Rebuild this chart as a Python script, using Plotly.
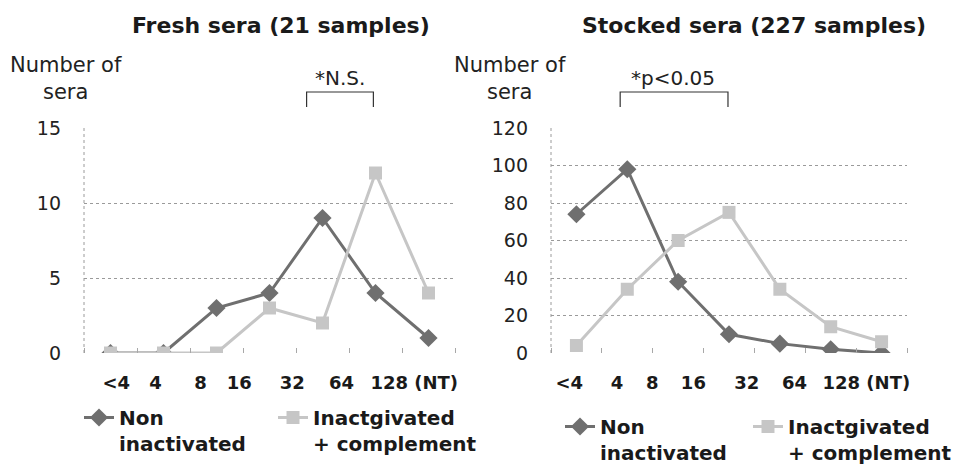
import plotly.graph_objects as go

# ---- data ----
titer_labels = ["<4", "4", "8", "16", "32", "64", "128 (NT)"]
fresh_non_inactivated = [0, 0, 3, 4, 9, 4, 1]
fresh_inactivated_complement = [0, 0, 0, 3, 2, 12, 4]
stocked_non_inactivated = [74, 98, 38, 10, 5, 2, 0]
stocked_inactivated_complement = [4, 34, 60, 75, 34, 14, 6]
series_names = ["Non<br>inactivated", "Inactgivated<br>+ complement"]
panel_titles = ["Fresh sera (21 samples)", "Stocked sera (227 samples)"]
fresh_yticks = [0, 5, 10, 15]
stocked_yticks = [0, 20, 40, 60, 80, 100, 120]
significance = ["*N.S.", "*p<0.05"]

W, H = 964, 464
def px_x(p):
    return p / W
def px_y(p):
    return 1 - p / H

DARK = "#6f6f6f"
LIGHT = "#c6c6c6"
FONT = "DejaVu Sans"

# category index of each titer class (points sit at these positions)
cat_pos = list(range(len(titer_labels)))

fig = go.Figure()

panels = [
    dict(xa="x", ya="y", non=fresh_non_inactivated, ina=fresh_inactivated_complement,
         legs=("legend", "legend2")),
    dict(xa="x2", ya="y2", non=stocked_non_inactivated, ina=stocked_inactivated_complement,
         legs=("legend3", "legend4")),
]

for p in panels:
    fig.add_trace(go.Scatter(
        x=cat_pos, y=p["non"], name=series_names[0], xaxis=p["xa"], yaxis=p["ya"],
        mode="lines+markers", line=dict(color=DARK, width=3),
        marker=dict(symbol="diamond", size=14, color=DARK), legend=p["legs"][0]))
    fig.add_trace(go.Scatter(
        x=cat_pos, y=p["ina"], name=series_names[1], xaxis=p["xa"], yaxis=p["ya"],
        mode="lines+markers", line=dict(color=LIGHT, width=3),
        marker=dict(symbol="square", size=13, color=LIGHT), legend=p["legs"][1]))

ydom = [px_y(353), px_y(128)]
dom_left = [px_x(84), px_x(455)]
dom_right = [px_x(551), px_x(907)]
xr = [-0.5, len(titer_labels) - 0.5]

tickfont_x = dict(family=FONT, size=18, color="#1a1a1a", weight="bold")
tickfont_y = dict(family=FONT, size=19, color="#222222")

# label positions (in category units) under the axis, as in the reference
left_label_pos = [0.11, 0.85, 1.70, 2.43, 3.43, 4.36, 5.73]
right_label_pos = [-0.14, 0.80, 1.49, 2.30, 3.35, 4.29, 5.70]

def xaxis_cfg(dom, anchor, pos):
    return dict(domain=dom, anchor=anchor, range=xr, tickmode="array", tickvals=pos,
                ticktext=titer_labels, ticks="", showgrid=False, showline=False,
                zeroline=False, tickfont=tickfont_x, ticklabelstandoff=17, fixedrange=True,
                minor=dict(tickmode="linear", tick0=0.5, dtick=1, ticks="inside",
                           ticklen=5, tickcolor="#a8a8a8", showgrid=False))

def yaxis_cfg(anchor, rng, ticks):
    return dict(domain=ydom, anchor=anchor, range=rng, tickvals=ticks, showgrid=True,
                gridcolor="#9a9a9a", griddash="dot", gridwidth=1, zeroline=False,
                showline=False, tickfont=tickfont_y, ticklabelstandoff=22, fixedrange=True)

fig.update_layout(
    width=W, height=H, autosize=False,
    margin=dict(l=0, r=0, t=0, b=0, autoexpand=False),
    paper_bgcolor="white", plot_bgcolor="white",
    xaxis=xaxis_cfg(dom_left, "y", left_label_pos),
    xaxis2=xaxis_cfg(dom_right, "y2", right_label_pos),
    yaxis=yaxis_cfg("x", [0, 15], fresh_yticks),
    yaxis2=yaxis_cfg("x2", [0, 120], stocked_yticks),
    showlegend=True,
)

# legends: one per entry
leg_common = dict(orientation="h", xanchor="left", yanchor="top", valign="top",
                  bgcolor="rgba(0,0,0,0)", borderwidth=0,
                  font=dict(family=FONT, size=20, color="#1a1a1a", weight="bold"), itemwidth=30)
fig.update_layout(
    legend=dict(x=px_x(79), y=px_y(398), **leg_common),
    legend2=dict(x=px_x(273), y=px_y(398), **leg_common),
    legend3=dict(x=px_x(560), y=px_y(407), **leg_common),
    legend4=dict(x=px_x(748), y=px_y(407), **leg_common),
)

# vertical dotted axis lines at the left of each plot
for xa, ya in (("x", "y"), ("x2", "y2")):
    fig.add_shape(type="line", xref=f"{xa} domain", yref=f"{ya} domain", x0=0, x1=0, y0=0, y1=1,
                  line=dict(color="#9a9a9a", width=1, dash="dot"))

# titles
for cx, t in zip((281, 754), panel_titles):
    fig.add_annotation(x=px_x(cx), y=px_y(26), xref="paper", yref="paper", text=t,
                       showarrow=False,
                       font=dict(family=FONT, size=22, color="#1a1a1a", weight="bold"),
                       xanchor="center", yanchor="middle")

# y-axis titles
for cx in (66, 510):
    fig.add_annotation(x=px_x(cx), y=px_y(78), xref="paper", yref="paper", text="Number of<br>sera",
                       showarrow=False, font=dict(family=FONT, size=21, color="#222222"),
                       xanchor="center", yanchor="middle", align="center")

# significance brackets
brackets = [("x", 3.7, 4.96, 4.33), ("x2", 0.86, 2.98, 1.90)]
for (xa, a, b, c), txt in zip(brackets, significance):
    fig.add_shape(type="path", xref=xa, yref="paper",
                  path=f"M {a},{px_y(107)} L {a},{px_y(92)} L {b},{px_y(92)} L {b},{px_y(107)}",
                  line=dict(color="#333333", width=1.2))
    fig.add_annotation(x=c, y=px_y(78), xref=xa, yref="paper", text=txt, showarrow=False,
                       font=dict(family=FONT, size=20, color="#222222"),
                       xanchor="center", yanchor="middle")

fig.write_html("out.html", config={"displayModeBar": False},
               post_script="document.body.style.margin='0';")
